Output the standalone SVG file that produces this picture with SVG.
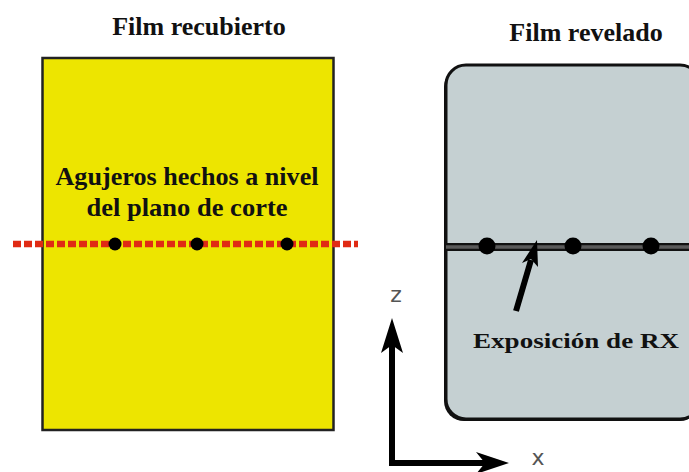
<svg xmlns="http://www.w3.org/2000/svg" width="689" height="472" viewBox="0 0 689 472">
<style>
.title{font-family:"Liberation Serif","Times New Roman",serif;font-weight:bold;font-size:26px;fill:#111;text-anchor:middle}
.label{font-family:"Liberation Serif","Times New Roman",serif;font-weight:bold;fill:#111;text-anchor:middle}
.axis{font-family:"DejaVu Sans","Liberation Sans",sans-serif;font-size:22px;fill:#555;text-anchor:middle}
.dot{fill:#000}
.ink{fill:#000}
</style>
<rect width="689" height="472" fill="#fff"/>
<g id="film-recubierto">
  <rect x="42.5" y="58" width="291" height="372" fill="#EDE500" stroke="#222" stroke-width="2.5"/>
  <text class="title" x="199" y="35">Film recubierto</text>
  <text class="label" x="187" y="185" font-size="25.5" textLength="263" lengthAdjust="spacingAndGlyphs">Agujeros hechos a nivel</text>
  <text class="label" x="187" y="216" font-size="25.5" textLength="201" lengthAdjust="spacingAndGlyphs">del plano de corte</text>
</g>
<g id="plano-corte">
  <line x1="13" y1="244" x2="358" y2="244" stroke="#E02A14" stroke-width="6.5" stroke-dasharray="8 3"/>
  <circle class="dot" cx="115" cy="244" r="6.5"/>
  <circle class="dot" cx="197" cy="244" r="6.5"/>
  <circle class="dot" cx="287" cy="244" r="6.5"/>
</g>
<g id="film-revelado">
  <rect x="444" y="67" width="256" height="354" rx="20" fill="#111"/>
  <rect x="446" y="65" width="254" height="354" rx="20" fill="#C5D0D2" stroke="#111" stroke-width="3"/>
  <text class="title" x="586" y="41">Film revelado</text>
  <line x1="446" y1="247" x2="689" y2="247" stroke="#111" stroke-width="8"/>
  <line x1="446" y1="247" x2="689" y2="247" stroke="#5a5a5a" stroke-width="3.5"/>
  <circle class="dot" cx="487" cy="246" r="8.5"/>
  <circle class="dot" cx="573" cy="246" r="8.5"/>
  <circle class="dot" cx="651" cy="246" r="8.5"/>
</g>
<g id="exposicion">
  <line x1="516" y1="311" x2="531" y2="260" stroke="#000" stroke-width="6"/>
  <polygon class="ink" points="537,240 538,267 531,259 522,263"/>
  <text class="label" x="576" y="348" font-size="22" textLength="206" lengthAdjust="spacingAndGlyphs">Exposición de RX</text>
</g>
<g id="ejes">
  <path d="M392,335 V463 H492" fill="none" stroke="#000" stroke-width="6" stroke-linejoin="miter"/>
  <polygon class="ink" points="392,318 381,353 392,345 403,353"/>
  <polygon class="ink" points="509,463 476,452 485,463 476,474"/>
  <text class="axis" x="396" y="302">z</text>
  <text class="axis" x="538" y="465">x</text>
</g>
</svg>
